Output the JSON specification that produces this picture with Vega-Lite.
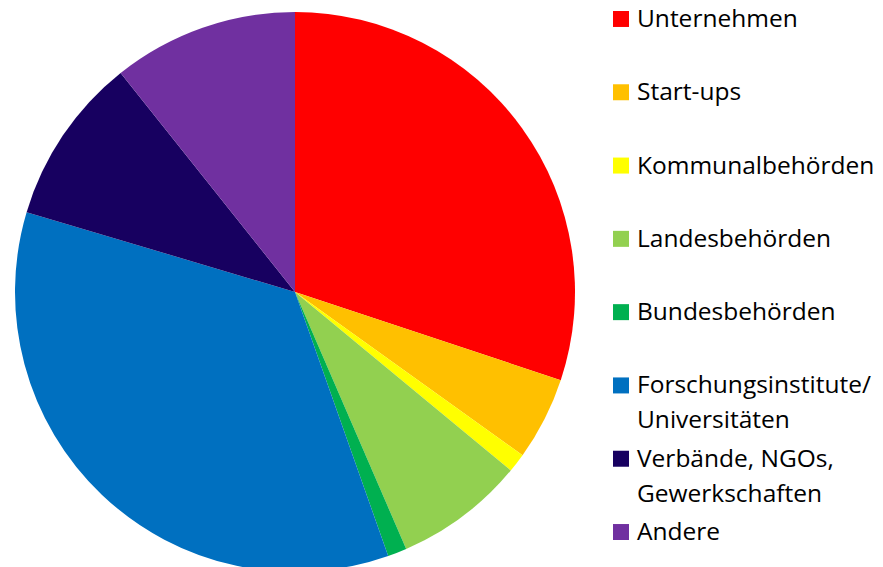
{
  "$schema": "https://vega.github.io/schema/vega-lite/v6.json",
  "padding": 0,
  "spacing": 23,
  "background": "white",
  "config": {"view": {"stroke": null}},
  "data": {
    "values": [
      {"rank": 1, "category": "Unternehmen", "label": "Unternehmen", "share": 30.1},
      {"rank": 2, "category": "Start-ups", "label": "Start-ups", "share": 4.8},
      {"rank": 3, "category": "Kommunalbehörden", "label": "Kommunalbehörden", "share": 1.1},
      {"rank": 4, "category": "Landesbehörden", "label": "Landesbehörden", "share": 7.5},
      {"rank": 5, "category": "Bundesbehörden", "label": "Bundesbehörden", "share": 1.1},
      {"rank": 6, "category": "Forschungsinstitute/Universitäten", "label": "Forschungsinstitute/|Universitäten", "share": 35.0},
      {"rank": 7, "category": "Verbände, NGOs, Gewerkschaften", "label": "Verbände, NGOs,|Gewerkschaften", "share": 9.7},
      {"rank": 8, "category": "Andere", "label": "Andere", "share": 10.7}
    ]
  },
  "hconcat": [
    {
      "width": 590,
      "height": 584,
      "mark": {"type": "arc", "outerRadius": 280, "stroke": null},
      "encoding": {
        "theta": {"field": "share", "type": "quantitative", "stack": true},
        "order": {"field": "rank", "type": "quantitative"},
        "color": {
          "field": "category",
          "type": "nominal",
          "legend": null,
          "scale": {
            "domain": ["Unternehmen", "Start-ups", "Kommunalbehörden", "Landesbehörden", "Bundesbehörden", "Forschungsinstitute/Universitäten", "Verbände, NGOs, Gewerkschaften", "Andere"],
            "range": ["#FF0000", "#FFC000", "#FFFF00", "#92D050", "#00B050", "#0070C0", "#170060", "#7030A0"]
          }
        }
      }
    },
    {
      "width": 270,
      "height": 567,
      "encoding": {
        "y": {
          "field": "category",
          "type": "nominal",
          "sort": {"field": "rank", "order": "ascending"},
          "scale": {"type": "point", "padding": 0.368},
          "axis": null
        }
      },
      "layer": [
        {
          "mark": {"type": "point", "shape": "square", "filled": true, "size": 256, "opacity": 1, "yOffset": -8},
          "encoding": {
            "x": {"value": 8},
            "color": {
              "field": "category",
              "type": "nominal",
              "legend": null,
              "scale": {
                "domain": ["Unternehmen", "Start-ups", "Kommunalbehörden", "Landesbehörden", "Bundesbehörden", "Forschungsinstitute/Universitäten", "Verbände, NGOs, Gewerkschaften", "Andere"],
                "range": ["#FF0000", "#FFC000", "#FFFF00", "#92D050", "#00B050", "#0070C0", "#170060", "#7030A0"]
              }
            }
          }
        },
        {
          "mark": {"type": "text", "align": "left", "baseline": "alphabetic", "font": "Open Sans", "fontSize": 24.5, "lineBreak": "|", "lineHeight": 35, "color": "#000000"},
          "encoding": {
            "x": {"value": 24},
            "text": {"field": "label", "type": "nominal"}
          }
        }
      ]
    }
  ]
}
